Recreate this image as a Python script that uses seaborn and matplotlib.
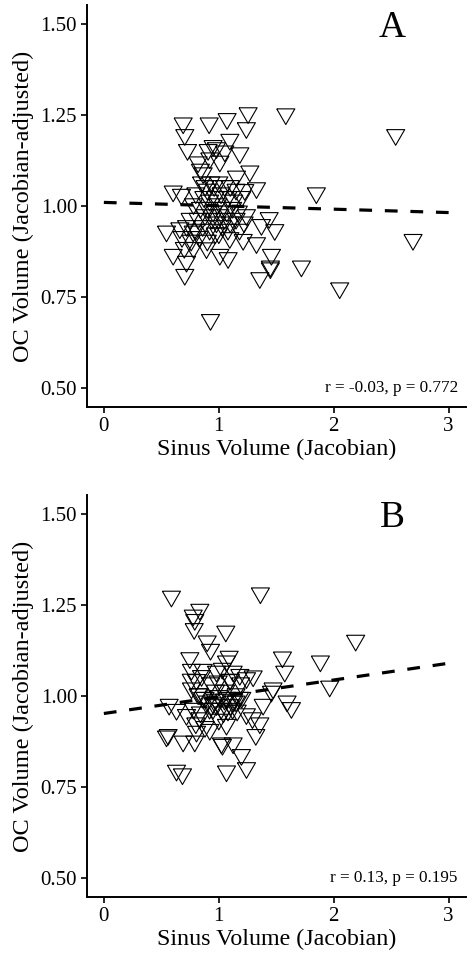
import numpy as np
import pandas as pd
import matplotlib
matplotlib.use("Agg")
import matplotlib.pyplot as plt
import seaborn as sns

# panel A points (sinus volume, OC volume)
sinus_a = [1.255, 1.583, 1.072, 0.916, 0.69, 1.24, 0.704, 2.539, 1.096, 0.728, 0.907, 0.98, 1.052, 1.183,
           0.922, 1.009, 0.82, 0.95, 1.27, 0.864, 1.154, 0.84, 0.603, 1.328, 1.849, 1.226, 0.675,
           0.85, 0.88, 0.9, 0.93, 0.96, 1.0, 1.05, 1.1, 1.15, 0.8, 0.87, 0.92, 0.97, 1.02, 1.08, 1.13, 1.2,
           0.78, 0.84, 0.9, 0.95, 0.99, 1.03, 1.07, 1.12, 1.17, 1.24, 0.75, 0.82, 0.88, 0.94, 0.98, 1.01,
           1.05, 1.1, 1.15, 1.22, 0.72, 0.8, 0.86, 0.92, 0.97, 1.03, 1.08, 1.18, 0.68, 0.76, 0.83, 0.9,
           1.0, 0.7, 0.78,
           0.545, 0.603, 0.719, 0.704, 0.661, 0.777, 0.893, 1.009, 1.081, 1.212, 1.328, 1.371, 1.438,
           1.487, 1.458, 1.449, 1.449, 1.357, 1.719, 2.052, 2.69, 0.928, 1.096]
oc_a = [1.25, 1.247, 1.234, 1.222, 1.222, 1.209, 1.19, 1.19, 1.177, 1.149, 1.149, 1.154, 1.145, 1.14,
        1.126, 1.117, 1.115, 1.16, 1.09, 1.085, 1.076, 1.095, 1.035, 1.044, 1.03, 1.039, 1.026,
        1.06, 1.05, 1.04, 1.06, 1.05, 1.06, 1.05, 1.05, 1.04, 1.03, 1.02, 1.01, 1.02, 1.03, 1.02, 1.01, 1.02,
        1.0, 0.99, 0.99, 0.98, 1.0, 0.99, 0.98, 0.99, 0.98, 0.97, 0.96, 0.96, 0.97, 0.96, 0.95, 0.97,
        0.96, 0.95, 0.96, 0.95, 0.94, 0.93, 0.94, 0.93, 0.92, 0.94, 0.93, 0.93, 0.91, 0.9, 0.91, 0.9,
        0.92, 0.88, 0.88,
        0.925, 0.861, 0.842, 0.806, 0.934, 0.925, 0.879, 0.861, 0.852, 0.902, 0.893, 0.943, 0.962,
        0.929, 0.861, 0.829, 0.824, 0.797, 0.829, 0.769, 0.902, 0.682, 0.907]

# panel B points
sinus_b = [0.588, 1.362, 0.835, 0.777, 0.791, 0.786, 1.061, 2.191, 0.899, 0.928, 1.554, 1.09, 0.748,
           1.884, 1.574, 1.067, 0.762, 0.864, 0.98, 1.125, 1.183, 1.299, 0.806, 0.994, 1.096, 1.241,
           1.965, 1.472, 1.458, 0.762, 0.88, 0.97, 1.07, 1.13, 1.18, 0.568, 0.632, 1.594, 1.632, 1.386,
           0.719, 0.835, 0.95, 1.04, 1.16, 1.24, 1.293, 1.357, 0.545, 0.559, 0.69, 0.791, 0.806, 0.922,
           1.067, 1.322, 1.023, 1.032, 1.125, 1.197, 1.241, 1.067, 0.632, 0.684,
           0.82, 0.86, 0.9, 0.95, 1.0, 1.05, 1.1, 1.15, 1.2, 0.78, 0.84, 0.92, 0.98, 1.02, 1.08, 1.12,
           0.76, 0.85, 0.93, 1.03, 1.1, 1.19, 0.8, 0.88, 1.0, 1.06, 0.83, 0.97, 1.15]
oc_b = [1.268, 1.277, 1.232, 1.216, 1.204, 1.179, 1.172, 1.147, 1.145, 1.122, 1.101, 1.103, 1.099,
        1.09, 1.062, 1.09, 1.067, 1.067, 1.062, 1.062, 1.053, 1.049, 1.039, 1.035, 1.039, 1.044,
        1.021, 1.016, 1.007, 1.016, 0.99, 0.985, 0.99, 0.98, 0.99, 0.971, 0.957, 0.98, 0.962, 0.971,
        0.943, 0.934, 0.96, 0.95, 0.955, 0.945, 0.934, 0.92, 0.884, 0.888, 0.87, 0.87, 0.897, 0.902,
        0.916, 0.888, 0.865, 0.861, 0.865, 0.833, 0.797, 0.788, 0.79, 0.78,
        1.0, 0.99, 0.98, 0.975, 0.995, 0.985, 0.97, 0.98, 0.99, 0.96, 0.95, 0.96, 0.97, 0.96, 0.955, 0.96,
        1.04, 1.05, 1.03, 1.07, 1.04, 1.03, 0.92, 0.91, 0.93, 1.01, 1.0, 1.01, 1.0]

# dashed fit lines (intercept, slope)
fit_a = (1.010, -0.0093)
fit_b = (0.952, 0.046)
labels = ["A", "B"]
stats_text = ["r = -0.03, p = 0.772", "r = 0.13, p = 0.195"]

sns.set_theme(style="ticks")
plt.rcParams['font.family'] = ['Liberation Serif', 'DejaVu Serif']
plt.rcParams['text.color'] = 'black'
plt.rcParams['axes.labelcolor'] = 'black'

# equilateral downward triangle like ggplot shape 6
tri = [(-1, 0.8), (1, 0.8), (0, -0.93), (-1, 0.8)]

fig = plt.figure(figsize=(4.72, 9.57), dpi=100)
ax_a = fig.add_axes([0.184, 0.5747, 0.803, 0.420])
ax_b = fig.add_axes([0.184, 0.0627, 0.803, 0.420])

panels = [(ax_a, sinus_a, oc_a, fit_a), (ax_b, sinus_b, oc_b, fit_b)]
for i, (ax, xs, ys, fit) in enumerate(panels):
    df = pd.DataFrame({"sinus": xs, "oc": ys})
    sns.scatterplot(data=df, x="sinus", y="oc", ax=ax, marker=tri, s=170,
                    facecolor="none", edgecolor="black", linewidth=0.8, zorder=2)
    line_x = np.array([0.0, 3.0])
    sns.lineplot(x=line_x, y=fit[0] + fit[1] * line_x, ax=ax, color="black",
                 linewidth=2.3, linestyle="--", zorder=3)
    ax.lines[-1].set_dashes([4, 4])

    ax.set_xlim(-0.148, 3.15)
    ax.set_ylim(0.448, 1.552)
    ax.set_xticks([0, 1, 2, 3])
    ax.set_yticks([0.5, 0.75, 1.0, 1.25, 1.5])
    ax.set_yticklabels(["0.50", "0.75", "1.00", "1.25", "1.50"])
    ax.tick_params(labelsize=15, length=4, width=1.2, colors="black", pad=3)
    for side in ["left", "bottom"]:
        ax.spines[side].set_linewidth(1.4)
        ax.spines[side].set_color("black")
    sns.despine(ax=ax)
    ax.set_xlabel("Sinus Volume (Jacobian)", fontsize=17.3, labelpad=2)
    ax.set_ylabel("OC Volume (Jacobian-adjusted)", fontsize=17.5, labelpad=5)
    ax.text(2.51, 1.49, labels[i], fontsize=27, ha="center", va="center")
    ax.text(3.08, 0.49, stats_text[i], fontsize=12.3, ha="right", va="baseline")

fig.savefig("out.png", dpi=100)
